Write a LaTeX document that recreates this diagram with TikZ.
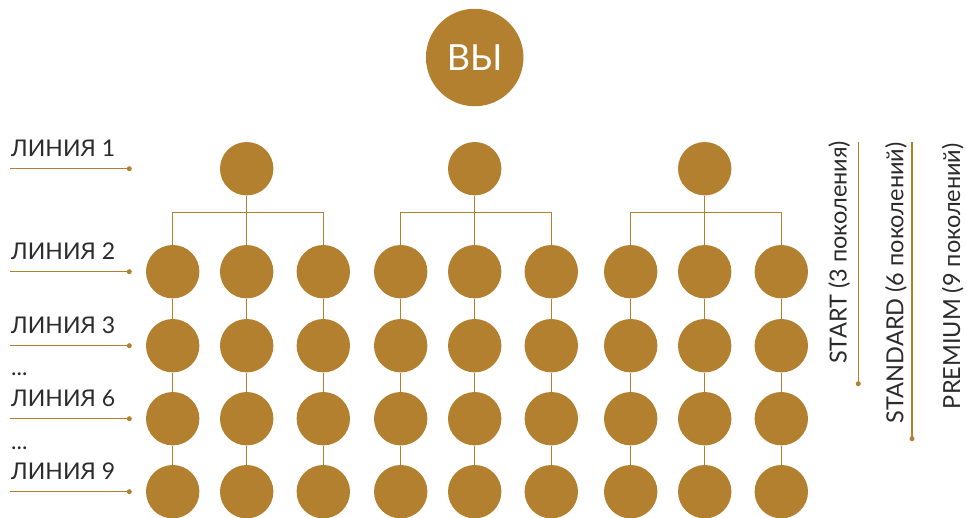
\documentclass[tikz,border=0pt]{standalone}
\usepackage{fontspec}
\setmainfont{Lato}
\definecolor{gold}{HTML}{B3802F}
\definecolor{ink}{HTML}{2B2B2B}
\tikzset{
  dotnode/.style={circle,fill=gold,inner sep=0pt,minimum size=53.4pt},
  youbox/.style={circle,fill=gold,inner sep=0pt,minimum size=97.5pt,text=white,font=\fontsize{36}{40}\selectfont},
  conn/.style={draw=gold,line width=1.4pt},
  lbl/.style={anchor=base west,text=ink,inner sep=0pt,font=\fontsize{23}{26}\selectfont},
  rlbl/.style={anchor=base west,rotate=90,text=ink,inner sep=0pt,font=\fontsize{23.5}{26}\selectfont},
  enddot/.style={circle,fill=gold,inner sep=0pt,minimum size=5pt}
}
\begin{document}
\begin{tikzpicture}[x=1pt,y=-1pt]
\useasboundingbox (0,0) rectangle (967,517);
% top
\node[youbox] (you) at (474.7,57.5) {ВЫ};
% groups
\foreach \g/\gx in {1/0,2/228,3/458} {
  \node[dotnode] (top\g) at (246.7+\gx,168.7) {};
  \foreach \c/\cx in {1/172.7,2/246.7,3/323.3} {
    \foreach \r/\ry in {2/271.7,3/345.7,4/418.7,5/491.7} {
      \node[dotnode] (n\g\c\r) at (\cx+\gx,\ry) {};
    }
    \draw[conn] (n\g\c2) -- (n\g\c3);
    \draw[conn] (n\g\c3) -- (n\g\c4);
    \draw[conn] (n\g\c4) -- (n\g\c5);
  }
  \coordinate (bar\g) at (246.7+\gx,212.7);
  \draw[conn] (top\g.south) -- (n\g22.north);
  \draw[conn] (n\g12.north) |- (bar\g) -| (n\g32.north);
}
% left labels
\foreach \r/\ry/\t in {1/168.7/ЛИНИЯ 1,2/271.7/ЛИНИЯ 2,3/345.7/ЛИНИЯ 3,6/418.7/ЛИНИЯ 6,9/491.7/ЛИНИЯ 9} {
  \node[lbl] (lab\r) at (11,\ry-12) {\t};
  \coordinate (ls\r) at (10,\ry);
  \node[enddot] (le\r) at (129.3,\ry) {};
  \draw[conn,line width=1.2pt] (ls\r) -- (le\r.center);
}
\node[lbl] (dots1) at (11,375) {...};
\node[lbl] (dots2) at (11,449) {...};
% right labels
\node[rlbl] (start) at (846.7,364) {START (3 поколения)};
\node[rlbl] (std) at (903.3,423.3) {STANDARD (6 поколений)};
\node[rlbl] (prem) at (960,409.3) {PREMIUM (9 поколений)};
\coordinate (st1) at (858.3,141.7);
\node[enddot] (st2) at (858.3,383.7) {};
\draw[conn,line width=1.2pt] (st1) -- (st2.center);
\coordinate (sd1) at (912,141.7);
\node[enddot] (sd2) at (912,438.7) {};
\draw[conn,line width=1.2pt] (sd1) -- (sd2.center);
\end{tikzpicture}
\end{document}
